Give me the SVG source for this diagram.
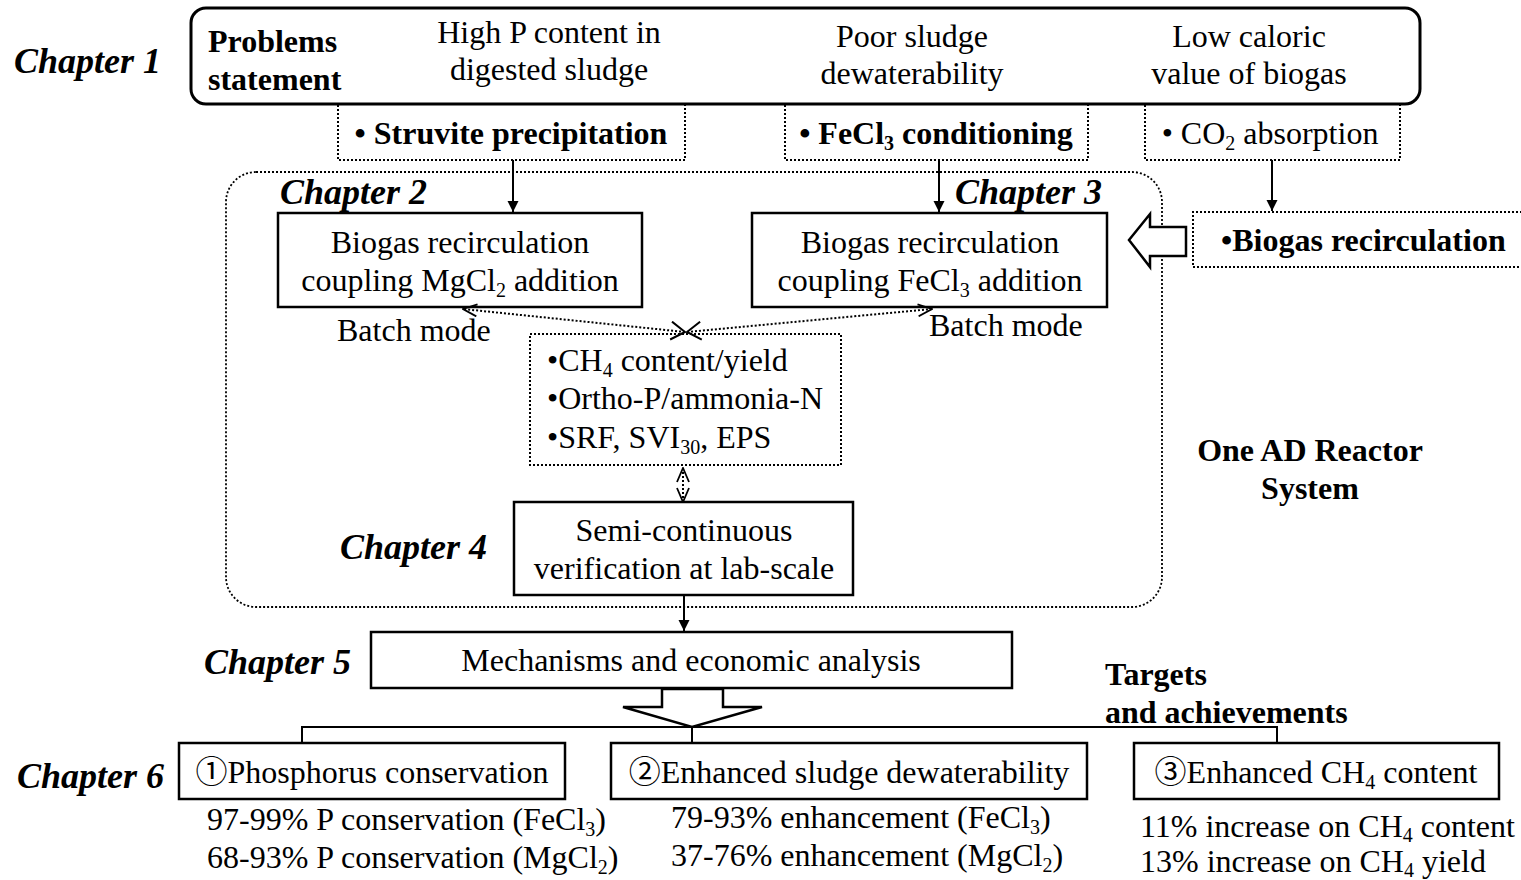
<svg xmlns="http://www.w3.org/2000/svg" width="1521" height="880" viewBox="0 0 1521 880">
<style>
.t{font-family:"Liberation Serif","Times New Roman","Noto Sans CJK SC",serif;font-size:32px;fill:#000}
.b{font-weight:bold}
.ch{font-family:"Liberation Serif","Times New Roman",serif;font-size:36px;font-weight:bold;font-style:italic;fill:#000}
.m{text-anchor:middle}
.box{fill:#fff;stroke:#000;stroke-width:2.5}
.dot{fill:none;stroke:#000;stroke-width:2;stroke-dasharray:2 2}
.ln{fill:none;stroke:#000;stroke-width:2}
.sub{font-size:20px}
</style>
<defs>
<marker id="ah" viewBox="0 0 10 10" refX="10" refY="5" markerWidth="11" markerHeight="13" markerUnits="userSpaceOnUse" orient="auto"><path d="M0,0 L10,5 L0,10 z" fill="#000"/></marker>
<marker id="oh" viewBox="0 0 16 20" refX="15" refY="10" markerWidth="16" markerHeight="20" markerUnits="userSpaceOnUse" orient="auto-start-reverse"><path d="M1,1 L15,10 L1,19" fill="none" stroke="#000" stroke-width="2"/></marker>
<marker id="ov" viewBox="0 0 16 14" refX="15" refY="7" markerWidth="16" markerHeight="14" markerUnits="userSpaceOnUse" orient="auto-start-reverse"><path d="M1,1 L15,7 L1,13" fill="none" stroke="#000" stroke-width="1.8"/></marker>
</defs>
<rect width="1521" height="880" fill="#fff"/>

<g id="chapters">
<text class="ch" x="14" y="73">Chapter 1</text>
<text class="ch" x="280" y="204">Chapter 2</text>
<text class="ch" x="955" y="204">Chapter 3</text>
<text class="ch" x="340" y="559">Chapter 4</text>
<text class="ch" x="204" y="674">Chapter 5</text>
<text class="ch" x="17" y="788">Chapter 6</text>
</g>

<g id="reactor-system">
<rect x="226" y="172" width="936" height="435" rx="30" class="dot" style="stroke-width:1.8"/>
<text class="t b m" x="1310" y="461">One AD Reactor</text>
<text class="t b m" x="1310" y="499">System</text>
</g>

<g id="problems">
<rect x="191" y="8" width="1229" height="96" rx="15" fill="#fff" stroke="#000" stroke-width="3"/>
<text class="t b" x="208" y="52">Problems</text>
<text class="t b" x="208" y="90">statement</text>
<text class="t m" x="549" y="43">High P content in</text>
<text class="t m" x="549" y="80">digested sludge</text>
<text class="t m" x="912" y="47">Poor sludge</text>
<text class="t m" x="912" y="84">dewaterability</text>
<text class="t m" x="1249" y="47">Low caloric</text>
<text class="t m" x="1249" y="84">value of biogas</text>
</g>

<g id="struvite">
<path class="dot" d="M338,105 V160 H685 V105"/>
<text class="t b m" x="511" y="144">• Struvite precipitation</text>
</g>
<g id="fecl3-cond">
<path class="dot" d="M785,105 V160 H1088 V105"/>
<text class="t b m" x="936" y="144">• FeCl<tspan class="sub" dy="6">3</tspan><tspan dy="-6"> conditioning</tspan></text>
</g>
<g id="co2">
<path class="dot" d="M1145,105 V160 H1400 V105"/>
<text class="t m" x="1270" y="144">• CO<tspan class="sub" dy="6">2</tspan><tspan dy="-6"> absorption</tspan></text>
</g>

<g id="biogas-recirc">
<path class="dot" d="M1522,212 H1193 V267 H1522"/>
<text class="t b" x="1221" y="251">•Biogas recirculation</text>
</g>

<g id="mgcl2-box">
<rect class="box" x="278" y="213" width="364" height="94"/>
<text class="t m" x="460" y="253">Biogas recirculation</text>
<text class="t m" x="460" y="291">coupling MgCl<tspan class="sub" dy="6">2</tspan><tspan dy="-6"> addition</tspan></text>
<text class="t" x="337" y="341">Batch mode</text>
</g>
<g id="fecl3-box">
<rect class="box" x="752" y="213" width="355" height="94"/>
<text class="t m" x="930" y="253">Biogas recirculation</text>
<text class="t m" x="930" y="291">coupling FeCl<tspan class="sub" dy="6">3</tspan><tspan dy="-6"> addition</tspan></text>
<text class="t" x="929" y="336">Batch mode</text>
</g>

<g id="metrics">
<rect class="dot" x="530" y="334" width="311" height="131" fill="#fff"/>
<text class="t" x="547" y="371">•CH<tspan class="sub" dy="6">4</tspan><tspan dy="-6"> content/yield</tspan></text>
<text class="t" x="547" y="409">•Ortho-P/ammonia-N</text>
<text class="t" x="547" y="448">•SRF, SVI<tspan class="sub" dy="6">30</tspan><tspan dy="-6">, EPS</tspan></text>
</g>

<g id="semi-cont">
<rect class="box" x="514" y="502" width="339" height="93"/>
<text class="t m" x="684" y="541">Semi-continuous</text>
<text class="t m" x="684" y="579">verification at lab-scale</text>
</g>

<g id="mechanisms">
<rect class="box" x="371" y="632" width="641" height="56"/>
<text class="t m" x="691" y="671">Mechanisms and economic analysis</text>
</g>

<g id="targets">
<text class="t b" x="1105" y="685">Targets</text>
<text class="t b" x="1105" y="723">and achievements</text>
</g>

<g id="target1">
<rect class="box" x="179" y="743" width="386" height="56"/>
<text class="t m" x="372" y="783">①Phosphorus conservation</text>
<text class="t" x="207" y="830">97-99% P conservation (FeCl<tspan class="sub" dy="6">3</tspan><tspan dy="-6">)</tspan></text>
<text class="t" x="207" y="868">68-93% P conservation (MgCl<tspan class="sub" dy="6">2</tspan><tspan dy="-6">)</tspan></text>
</g>
<g id="target2">
<rect class="box" x="611" y="743" width="476" height="56"/>
<text class="t m" x="849" y="783">②Enhanced sludge dewaterability</text>
<text class="t" x="671" y="828">79-93% enhancement (FeCl<tspan class="sub" dy="6">3</tspan><tspan dy="-6">)</tspan></text>
<text class="t" x="671" y="866">37-76% enhancement (MgCl<tspan class="sub" dy="6">2</tspan><tspan dy="-6">)</tspan></text>
</g>
<g id="target3">
<rect class="box" x="1134" y="743" width="365" height="56"/>
<text class="t m" x="1316" y="783">③Enhanced CH<tspan class="sub" dy="6">4</tspan><tspan dy="-6"> content</tspan></text>
<text class="t" x="1140" y="837">11% increase on CH<tspan class="sub" dy="5">4</tspan><tspan dy="-5"> content</tspan></text>
<text class="t" x="1140" y="872">13% increase on CH<tspan class="sub" dy="5">4</tspan><tspan dy="-5"> yield</tspan></text>
</g>

<g id="connectors">
<line class="ln" x1="513" y1="160" x2="513" y2="212" marker-end="url(#ah)"/>
<line class="ln" x1="939" y1="160" x2="939" y2="212" marker-end="url(#ah)"/>
<line class="ln" x1="1272" y1="160" x2="1272" y2="211" marker-end="url(#ah)"/>
<polygon points="1129,240 1150,214 1150,227 1186,227 1186,256 1150,256 1150,267" fill="#fff" stroke="#000" stroke-width="2.5"/>
<line class="dot" x1="685" y1="332" x2="463" y2="309" marker-start="url(#oh)" marker-end="url(#ov)"/>
<line class="dot" x1="687" y1="332" x2="932" y2="309" marker-start="url(#oh)" marker-end="url(#ov)"/>
<line class="dot" x1="683" y1="468" x2="683" y2="502" marker-start="url(#ov)" marker-end="url(#ov)"/>
<line class="ln" x1="684" y1="595" x2="684" y2="631" marker-end="url(#ah)"/>
<polygon points="662,689 723,689 723,707 762,707 692,727 623,707 662,707" fill="#fff" stroke="#000" stroke-width="2.5"/>
<path class="ln" d="M302,743 V727 H1277 V743 M692,727 V743"/>
</g>
</svg>
